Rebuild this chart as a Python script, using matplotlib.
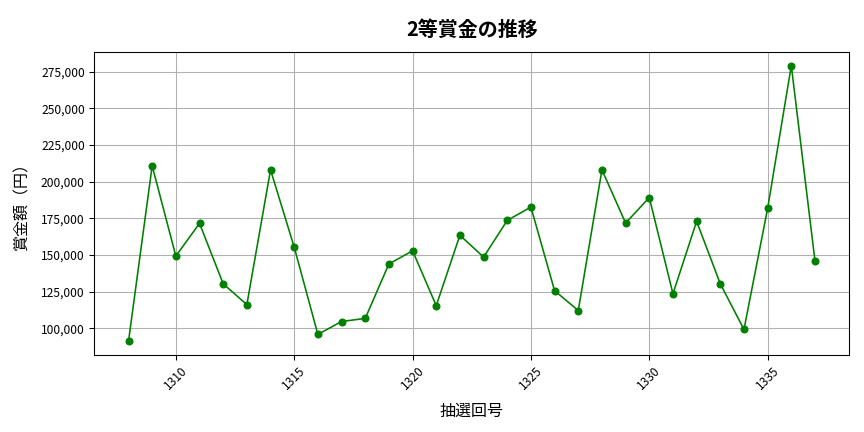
import matplotlib
matplotlib.use("Agg")
import matplotlib.pyplot as plt
from matplotlib.ticker import FuncFormatter

plt.rcParams['font.family'] = ['Noto Sans CJK JP', 'DejaVu Sans']

draws = list(range(1308, 1338))
prizes = [91200, 210800, 149300, 171600, 130400, 116200, 208100, 155400, 95900, 104700,
          106800, 143900, 152900, 115500, 163500, 148600, 173600, 182700, 125700, 112200,
          208100, 171800, 189200, 123600, 173000, 130400, 99300, 181800, 279100, 145900]

fig = plt.figure(figsize=(9, 4.5), dpi=96)
ax = fig.add_axes([0.109, 0.178, 0.874, 0.702])
ax.plot(draws, prizes, color='green', marker='o', markersize=5, linewidth=1.2)
ax.set_title('2等賞金の推移', fontsize=15, fontweight='bold', pad=12)
ax.set_xlabel('抽選回号', fontsize=12, labelpad=8)
ax.set_ylabel('賞金額（円）', fontsize=12, labelpad=8)
ax.yaxis.set_major_formatter(FuncFormatter(lambda v, p: f'{int(v):,}'))
ax.tick_params(axis='x', labelrotation=45, labelsize=9)
ax.tick_params(axis='y', labelsize=9)
ax.grid(True, color='#b0b0b0', linewidth=0.8)
fig.savefig('out.png', dpi=96)
